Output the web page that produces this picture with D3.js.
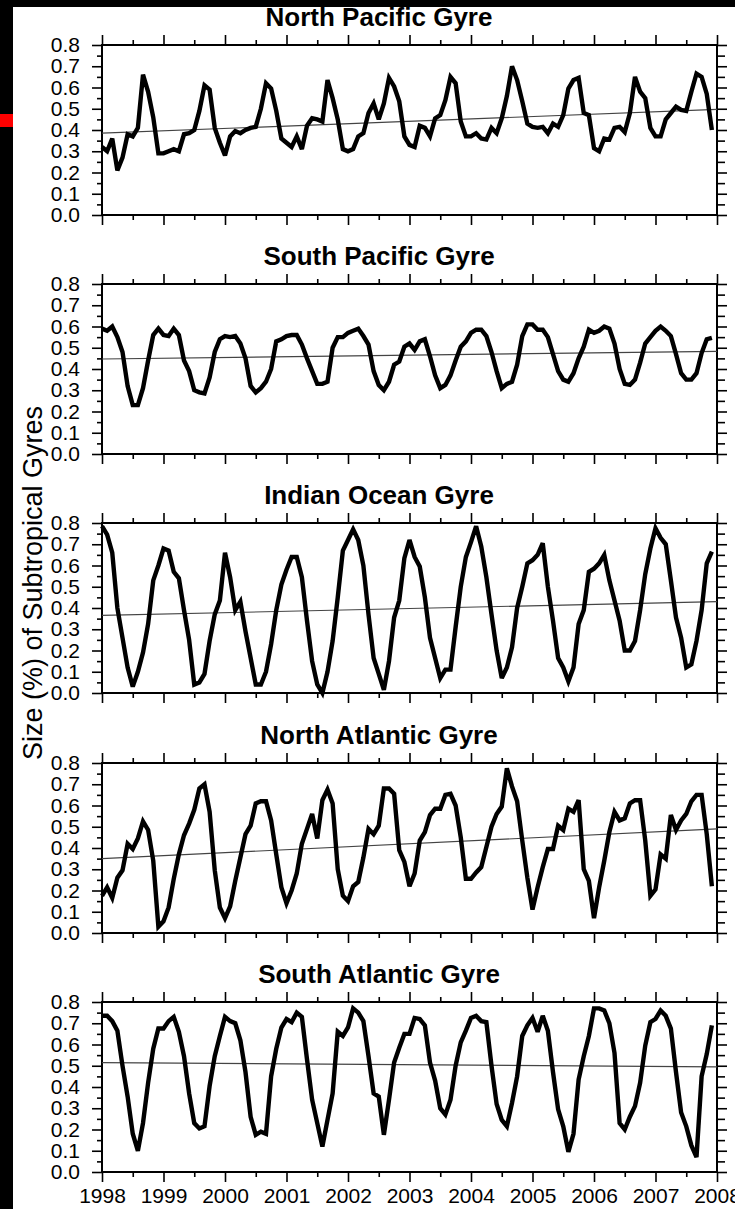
<!DOCTYPE html>
<html>
<head>
<meta charset="utf-8">
<script src="https://cdn.jsdelivr.net/npm/d3@7"></script>
<style>
  body { margin: 0; background: #fff; }
  svg { display: block; }
  .tick text { font-family: "Liberation Sans", Arial, Helvetica, sans-serif; }
</style>
</head>
<body>
<div id="chart"></div>
<script>
/* DATA: monthly values, Jan 1998 .. Dec 2007 */
const titles = ["North Pacific Gyre", "South Pacific Gyre", "Indian Ocean Gyre", "North Atlantic Gyre", "South Atlantic Gyre"];

const northPacific = [
  0.32, 0.30, 0.36, 0.21, 0.27, 0.38, 0.37, 0.41, 0.66, 0.58, 0.46, 0.29,
  0.29, 0.30, 0.31, 0.30, 0.38, 0.385, 0.40, 0.49, 0.61, 0.59, 0.41, 0.34,
  0.28, 0.37, 0.395, 0.385, 0.40, 0.41, 0.415, 0.50, 0.62, 0.595, 0.49, 0.36,
  0.34, 0.32, 0.37, 0.31, 0.42, 0.455, 0.45, 0.44, 0.635, 0.55, 0.45, 0.31,
  0.30, 0.31, 0.37, 0.385, 0.48, 0.525, 0.45, 0.525, 0.645, 0.605, 0.535, 0.37,
  0.33, 0.32, 0.42, 0.41, 0.37, 0.455, 0.47, 0.54, 0.65, 0.62, 0.44, 0.37,
  0.37, 0.385, 0.36, 0.355, 0.41, 0.385, 0.455, 0.56, 0.70, 0.635, 0.535, 0.43,
  0.415, 0.41, 0.415, 0.385, 0.43, 0.415, 0.47, 0.595, 0.635, 0.645, 0.48, 0.47,
  0.315, 0.30, 0.36, 0.355, 0.41, 0.415, 0.39, 0.48, 0.65, 0.58, 0.55, 0.41,
  0.37, 0.37, 0.45, 0.48, 0.51, 0.495, 0.49, 0.58, 0.665, 0.65, 0.57, 0.40
];

const southPacific = [
  0.59, 0.58, 0.60, 0.55, 0.48, 0.32, 0.23, 0.23, 0.31, 0.44, 0.56, 0.59,
  0.56, 0.555, 0.59, 0.56, 0.44, 0.39, 0.30, 0.29, 0.285, 0.36, 0.48, 0.54,
  0.555, 0.55, 0.555, 0.52, 0.45, 0.32, 0.29, 0.31, 0.34, 0.40, 0.53, 0.54,
  0.555, 0.56, 0.56, 0.515, 0.45, 0.39, 0.33, 0.33, 0.34, 0.50, 0.55, 0.55,
  0.57, 0.58, 0.59, 0.555, 0.515, 0.39, 0.325, 0.30, 0.34, 0.42, 0.435, 0.505,
  0.52, 0.49, 0.53, 0.54, 0.46, 0.37, 0.31, 0.325, 0.37, 0.44, 0.505, 0.53,
  0.57, 0.585, 0.585, 0.555, 0.48, 0.39, 0.31, 0.33, 0.34, 0.42, 0.555, 0.61,
  0.61, 0.585, 0.585, 0.55, 0.47, 0.39, 0.35, 0.34, 0.38, 0.45, 0.505, 0.585,
  0.57, 0.58, 0.60, 0.59, 0.52, 0.40, 0.33, 0.325, 0.35, 0.43, 0.52, 0.55,
  0.58, 0.60, 0.58, 0.555, 0.47, 0.38, 0.35, 0.35, 0.38, 0.475, 0.54, 0.547
];

const indianOcean = [
  0.785, 0.745, 0.66, 0.40, 0.26, 0.12, 0.03, 0.10, 0.19, 0.325, 0.53, 0.60,
  0.68, 0.67, 0.57, 0.54, 0.39, 0.25, 0.04, 0.05, 0.09, 0.245, 0.37, 0.435,
  0.66, 0.545, 0.39, 0.43, 0.29, 0.165, 0.04, 0.04, 0.10, 0.23, 0.39, 0.51,
  0.58, 0.64, 0.64, 0.545, 0.34, 0.15, 0.04, 0.00, 0.10, 0.245, 0.45, 0.67,
  0.72, 0.77, 0.72, 0.60, 0.37, 0.165, 0.09, 0.015, 0.15, 0.355, 0.435, 0.635,
  0.72, 0.64, 0.595, 0.45, 0.26, 0.165, 0.07, 0.11, 0.11, 0.31, 0.50, 0.64,
  0.71, 0.785, 0.69, 0.545, 0.37, 0.20, 0.07, 0.12, 0.215, 0.40, 0.50, 0.61,
  0.625, 0.65, 0.705, 0.50, 0.34, 0.165, 0.12, 0.055, 0.12, 0.325, 0.39, 0.57,
  0.585, 0.61, 0.65, 0.53, 0.435, 0.34, 0.20, 0.20, 0.245, 0.39, 0.56, 0.68,
  0.775, 0.73, 0.70, 0.53, 0.355, 0.26, 0.12, 0.135, 0.245, 0.39, 0.61, 0.665
];

const northAtlantic = [
  0.175, 0.215, 0.165, 0.26, 0.295, 0.42, 0.395, 0.445, 0.525, 0.485, 0.34, 0.03,
  0.055, 0.12, 0.255, 0.37, 0.46, 0.515, 0.58, 0.68, 0.70, 0.57, 0.295, 0.12,
  0.07, 0.125, 0.245, 0.355, 0.465, 0.505, 0.61, 0.62, 0.62, 0.53, 0.37, 0.215,
  0.14, 0.20, 0.28, 0.42, 0.49, 0.56, 0.445, 0.625, 0.675, 0.61, 0.30, 0.175,
  0.15, 0.22, 0.24, 0.355, 0.49, 0.465, 0.505, 0.68, 0.68, 0.655, 0.39, 0.335,
  0.22, 0.28, 0.435, 0.475, 0.555, 0.585, 0.585, 0.65, 0.655, 0.60, 0.45, 0.255,
  0.255, 0.285, 0.31, 0.405, 0.50, 0.56, 0.595, 0.775, 0.69, 0.62, 0.435, 0.26,
  0.11, 0.215, 0.31, 0.395, 0.395, 0.505, 0.485, 0.585, 0.57, 0.625, 0.30, 0.245,
  0.07, 0.215, 0.34, 0.475, 0.57, 0.53, 0.54, 0.61, 0.625, 0.625, 0.435, 0.175,
  0.205, 0.37, 0.35, 0.555, 0.485, 0.53, 0.56, 0.62, 0.65, 0.65, 0.465, 0.22
];

const southAtlantic = [
  0.735, 0.735, 0.71, 0.665, 0.50, 0.355, 0.18, 0.10, 0.23, 0.42, 0.58, 0.675,
  0.675, 0.71, 0.73, 0.66, 0.545, 0.37, 0.23, 0.205, 0.215, 0.405, 0.545, 0.64,
  0.73, 0.71, 0.70, 0.62, 0.47, 0.26, 0.175, 0.19, 0.18, 0.45, 0.58, 0.68,
  0.72, 0.705, 0.75, 0.73, 0.53, 0.34, 0.23, 0.12, 0.245, 0.37, 0.66, 0.64,
  0.68, 0.77, 0.75, 0.71, 0.545, 0.37, 0.355, 0.175, 0.34, 0.515, 0.585, 0.65,
  0.65, 0.725, 0.72, 0.69, 0.515, 0.43, 0.30, 0.27, 0.34, 0.50, 0.61, 0.665,
  0.725, 0.735, 0.71, 0.705, 0.50, 0.32, 0.245, 0.215, 0.325, 0.45, 0.64, 0.69,
  0.725, 0.66, 0.735, 0.665, 0.47, 0.295, 0.215, 0.095, 0.18, 0.435, 0.545, 0.64,
  0.77, 0.77, 0.76, 0.70, 0.56, 0.23, 0.20, 0.26, 0.31, 0.42, 0.595, 0.705,
  0.72, 0.76, 0.735, 0.675, 0.47, 0.28, 0.215, 0.125, 0.07, 0.45, 0.555, 0.69
];

// linear trend lines: value at start (1998) and end (2008)
const trendStart = [0.385, 0.447, 0.365, 0.35, 0.515];
const trendEnd = [0.497, 0.483, 0.43, 0.49, 0.495];

const yTicks = [0.0, 0.1, 0.2, 0.3, 0.4, 0.5, 0.6, 0.7, 0.8];
const xTicks = [1998, 1999, 2000, 2001, 2002, 2003, 2004, 2005, 2006, 2007, 2008];

/* LAYOUT */
const width = 735, height = 1209;
const plotLeft = 102, plotRight = 717;
const panelTops = [45, 284, 523, 763, 1002];
const panelH = 170;
const font = '"Liberation Sans", Arial, Helvetica, sans-serif';

const series = [northPacific, southPacific, indianOcean, northAtlantic, southAtlantic];

const svg = d3.select("#chart").append("svg")
  .attr("width", width)
  .attr("height", height);

svg.append("rect").attr("width", width).attr("height", height).attr("fill", "#fff");

const xScale = d3.scaleLinear().domain([1998, 2008]).range([plotLeft, plotRight]);
const halfYears = d3.range(1998.5, 2008, 1);
const minorY = d3.range(0.05, 0.8, 0.1);

series.forEach((values, p) => {
  const top = panelTops[p];
  const yScale = d3.scaleLinear().domain([0, 0.8]).range([top + panelH, top]);
  const g = svg.append("g");

  // left axis with labels
  const left = g.append("g")
    .attr("transform", `translate(${plotLeft},0)`)
    .call(d3.axisLeft(yScale).tickValues(yTicks).tickSize(10).tickPadding(12).tickFormat(d3.format(".1f")));
  left.selectAll("text").attr("font-size", 21).attr("fill", "#000");
  g.append("g").attr("transform", `translate(${plotLeft},0)`)
    .call(d3.axisLeft(yScale).tickValues(minorY).tickSize(5).tickFormat(""));

  // right axis
  g.append("g").attr("transform", `translate(${plotRight},0)`)
    .call(d3.axisRight(yScale).tickValues(yTicks).tickSize(10).tickFormat(""));
  g.append("g").attr("transform", `translate(${plotRight},0)`)
    .call(d3.axisRight(yScale).tickValues(minorY).tickSize(8).tickFormat(""));

  // top axis
  g.append("g").attr("transform", `translate(0,${top})`)
    .call(d3.axisTop(xScale).tickValues(xTicks).tickSize(10).tickFormat(""));
  g.append("g").attr("transform", `translate(0,${top})`)
    .call(d3.axisTop(xScale).tickValues(halfYears).tickSize(5).tickFormat(""));

  // bottom axis
  const bottom = g.append("g").attr("transform", `translate(0,${top + panelH})`)
    .call(d3.axisBottom(xScale).tickValues(xTicks).tickSize(10).tickPadding(6)
      .tickFormat(p === series.length - 1 ? d3.format("d") : ""));
  bottom.selectAll("text").attr("font-size", 21).attr("fill", "#000");
  g.append("g").attr("transform", `translate(0,${top + panelH})`)
    .call(d3.axisBottom(xScale).tickValues(halfYears).tickSize(5).tickFormat(""));

  g.selectAll(".domain").remove();
  g.selectAll(".tick line").attr("stroke", "#000").attr("stroke-width", 1.6);

  // frame
  g.append("rect")
    .attr("x", plotLeft).attr("y", top)
    .attr("width", plotRight - plotLeft).attr("height", panelH)
    .attr("fill", "none").attr("stroke", "#000").attr("stroke-width", 2);

  // trend line
  g.append("line")
    .attr("x1", xScale(1998)).attr("x2", xScale(2008))
    .attr("y1", yScale(trendStart[p])).attr("y2", yScale(trendEnd[p]))
    .attr("stroke", "#444").attr("stroke-width", 1.2);

  // series line
  const line = d3.line()
    .x((d, i) => xScale(1998 + i / 12))
    .y(d => yScale(d));
  g.append("path")
    .datum(values)
    .attr("d", line)
    .attr("fill", "none")
    .attr("stroke", "#000")
    .attr("stroke-width", 4.4)
    .attr("stroke-linejoin", "miter")
    .attr("stroke-miterlimit", 3);

  // title
  g.append("text")
    .attr("x", 379).attr("y", top - 19)
    .attr("text-anchor", "middle")
    .attr("font-family", font).attr("font-weight", "bold").attr("font-size", 26)
    .text(titles[p]);
});

// y axis label
svg.append("text")
  .attr("transform", "translate(42,583) rotate(-90)")
  .attr("text-anchor", "middle")
  .attr("font-family", font).attr("font-size", 27)
  .text("Size (%) of Subtropical Gyres");

// black border bands and red marker
svg.append("rect").attr("x", 0).attr("y", 0).attr("width", width).attr("height", 7).attr("fill", "#000");
svg.append("rect").attr("x", 0).attr("y", 0).attr("width", 13).attr("height", height).attr("fill", "#000");
svg.append("rect").attr("x", 0).attr("y", 114).attr("width", 13).attr("height", 13).attr("fill", "#f00");
</script>
</body>
</html>
